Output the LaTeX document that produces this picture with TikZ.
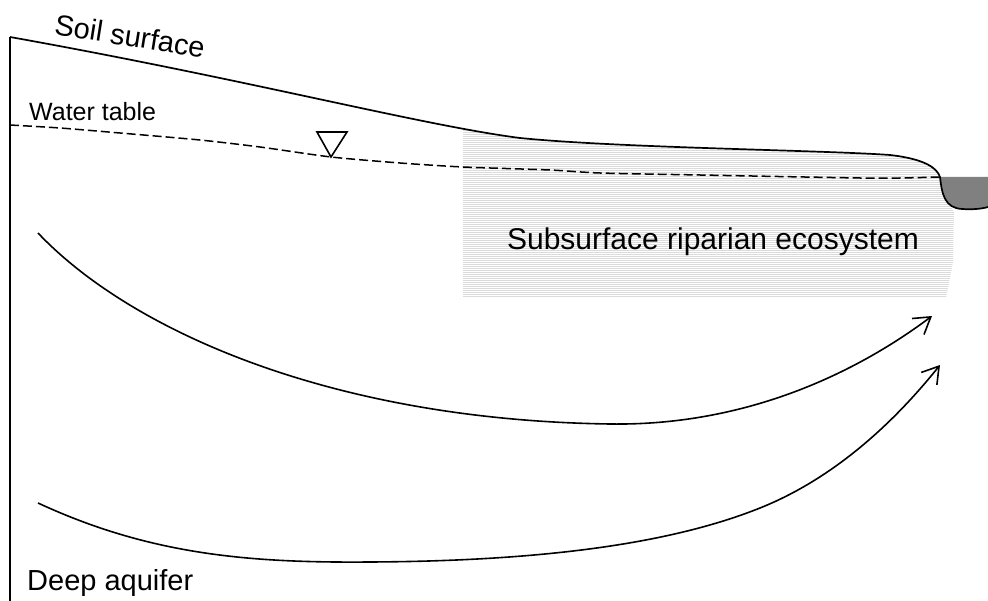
\documentclass[tikz,border=0pt]{standalone}
\usepackage{fontspec}
\setmainfont{Liberation Sans}
\usetikzlibrary{arrows.meta}
\begin{document}
\begin{tikzpicture}[x=1pt,y=-1pt,
  ground/.style={line width=1.7pt, black},
  watertable/.style={line width=1.5pt, dash pattern=on 9pt off 4pt},
  flow/.style={line width=1.6pt, -{Straight Barb[length=16pt,width=20pt,line width=1.6pt]}},
  hatchline/.style={gray!28, line width=0.9pt},
  label/.style={inner sep=0pt, font=\fontsize{29}{32}\selectfont}
]
\useasboundingbox (0,0) rectangle (988,601);

% soil surface, from the left edge down to the river bank
\def\surface{(10,37) .. controls (250,80) and (420,125) .. (520,138)
  .. controls (620,148) and (820,150) .. (890,155)
  .. controls (925,159) and (937,168) .. (940,177)
  .. controls (942,195) and (945,208) .. (962,209)
  .. controls (975,210) and (985,208) .. (988,207)}

% hatched subsurface riparian zone
\begin{scope}
  \clip \surface -- (988,601) -- (0,601) -- (0,37) -- cycle;
  \clip (463,100) -- (948,100) -- (948,200) -- (954,213) -- (953,262)
        -- (946,298) -- (463,298) -- cycle;
  \foreach \yy in {100,102,...,300} \draw[hatchline] (460,\yy) -- (960,\yy);
\end{scope}

% river
\fill[black!50] (940,177)
  .. controls (942,195) and (945,208) .. (962,209)
  .. controls (975,210) and (985,208) .. (988,207) -- (988,177) -- cycle;

% ground outline
\draw[ground] (10,601) -- (10,37);
\draw[ground] \surface;

% water table
\draw[watertable] plot[smooth, tension=0.4] coordinates {(10,125) (60,128) (120,133)
  (200,140) (260,147) (331,157) (400,163) (463,167) (550,170) (600,173)
  (700,175) (860,178) (900,178) (940,177)};

% water table symbol
\draw[line width=1.6pt, line join=miter] (317,132) -- (347,132) -- (331,157) -- cycle;

% groundwater flow paths
\coordinate (f1s) at (38,233);
\coordinate (f1m) at (610,424);
\coordinate (f1e) at (932,316);
\draw[flow] (f1s) .. controls (130,330) and (330,420) .. (f1m)
  .. controls (750,426) and (860,370) .. (f1e);
\coordinate (f2s) at (38,503);
\coordinate (f2a) at (370,562);
\coordinate (f2b) at (760,508);
\coordinate (f2e) at (940,365);
\draw[flow] (f2s) .. controls (150,555) and (250,563) .. (f2a)
  .. controls (560,561) and (680,540) .. (f2b)
  .. controls (840,476) and (900,415) .. (f2e);

% labels
\node[label, rotate=-9] (soil) at (130,36) {Soil surface};
\node[label, anchor=base west, font=\fontsize{25}{28}\selectfont] (wt) at (29,121) {Water table};
\node[label, font=\fontsize{30}{33}\selectfont] (eco) at (713,242) {Subsurface riparian ecosystem};
\node[label, anchor=base west] (deep) at (27,590) {Deep aquifer};
\end{tikzpicture}
\end{document}
